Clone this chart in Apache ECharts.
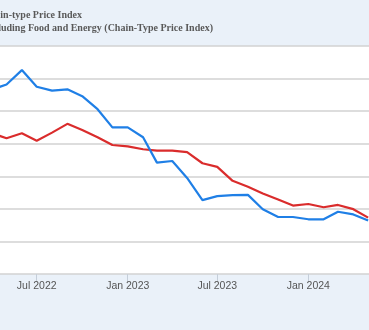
<!DOCTYPE html>
<html>
<head>
<meta charset="utf-8">
<script src="https://cdn.jsdelivr.net/npm/echarts@6/dist/echarts.min.js"></script>
<style>
  html, body { margin: 0; padding: 0; background: #eaf1f9; }
  #chart { width: 369px; height: 330px; }
</style>
</head>
<body>
<div id="chart"></div>
<script>
// Monthly observations (first of month), percent change from a year ago
const months = [
  '2022-04-01', '2022-05-01', '2022-06-01', '2022-07-01', '2022-08-01', '2022-09-01',
  '2022-10-01', '2022-11-01', '2022-12-01', '2023-01-01', '2023-02-01', '2023-03-01',
  '2023-04-01', '2023-05-01', '2023-06-01', '2023-07-01', '2023-08-01', '2023-09-01',
  '2023-10-01', '2023-11-01', '2023-12-01', '2024-01-01', '2024-02-01', '2024-03-01',
  '2024-04-01', '2024-05-01'
];
// PCE: Chain-type Price Index
const pceHeadline = [
  6.66, 6.82, 7.26, 6.75, 6.63, 6.67,
  6.46, 6.06, 5.50, 5.50, 5.20, 4.42,
  4.47, 3.95, 3.27, 3.39, 3.42, 3.43,
  2.99, 2.75, 2.75, 2.68, 2.68, 2.91,
  2.83, 2.64
];
// PCE Excluding Food and Energy
const pceCore = [
  5.32, 5.17, 5.32, 5.09, 5.34, 5.61,
  5.42, 5.20, 4.96, 4.92, 4.83, 4.79,
  4.79, 4.74, 4.40, 4.29, 3.86, 3.68,
  3.47, 3.29, 3.10, 3.15, 3.05, 3.12,
  2.99, 2.73
];
const seriesNames = [
  'Personal Consumption Expenditures: Chain-type Price Index',
  'Personal Consumption Expenditures Excluding Food and Energy (Chain-Type Price Index)'
];
const tickDates = ['2022-07-01', '2023-01-01', '2023-07-01', '2024-01-01'];
const tickLabels = ['Jul 2022', 'Jan 2023', 'Jul 2023', 'Jan 2024'];

const ts = d => Date.parse(d + 'T00:00:00Z');
const tickValues = tickDates.map(ts);
const labelFor = {};
tickValues.forEach((v, i) => { labelFor[v] = tickLabels[i]; });

const legendFont = 'bold 10px "Liberation Serif", "Times New Roman", serif';

const chart = echarts.init(document.getElementById('chart'), null, { renderer: 'canvas' });
chart.setOption({
  animation: false,
  backgroundColor: '#eaf1f9',
  grid: {
    left: 0, right: 0, top: 46, bottom: 56,
    show: true, backgroundColor: '#ffffff', borderWidth: 0
  },
  xAxis: {
    // time values on a linear scale, ticks only at the half-year marks
    type: 'value',
    min: Date.UTC(2022, 3, 17, 19),
    max: Date.UTC(2024, 4, 2, 17),
    axisLine: { show: false },
    splitLine: { show: false },
    axisTick: {
      show: true, customValues: tickValues, length: 8, inside: false,
      lineStyle: { color: '#c5ced9', width: 1 }
    },
    axisLabel: {
      customValues: tickValues,
      formatter: v => labelFor[v] || '',
      color: '#555555',
      fontFamily: 'Liberation Sans, Arial, sans-serif',
      fontSize: 10.5,
      margin: 7
    }
  },
  yAxis: {
    type: 'value',
    min: 1, max: 8, interval: 1,
    axisLine: { show: false },
    axisTick: { show: false },
    axisLabel: { show: false },
    splitLine: { show: true, lineStyle: { color: '#d2d2d2', width: 1.5 } }
  },
  graphic: [
    {
      type: 'text', x: 82, y: 15.5,
      style: {
        text: seriesNames[0], align: 'right', verticalAlign: 'middle',
        font: legendFont, fill: '#595959'
      }
    },
    {
      type: 'text', x: 213, y: 28,
      style: {
        text: seriesNames[1], align: 'right', verticalAlign: 'middle',
        font: legendFont, fill: '#595959'
      }
    }
  ],
  series: [
    {
      name: seriesNames[0], type: 'line', showSymbol: false, clip: true,
      data: months.map((m, i) => [ts(m), pceHeadline[i]]),
      lineStyle: { color: '#1f7fe6', width: 2.2 }, itemStyle: { color: '#1f7fe6' },
      z: 3
    },
    {
      name: seriesNames[1], type: 'line', showSymbol: false, clip: true,
      data: months.map((m, i) => [ts(m), pceCore[i]]),
      lineStyle: { color: '#da2c2c', width: 2.2 }, itemStyle: { color: '#da2c2c' },
      z: 2
    }
  ]
});
</script>
</body>
</html>
